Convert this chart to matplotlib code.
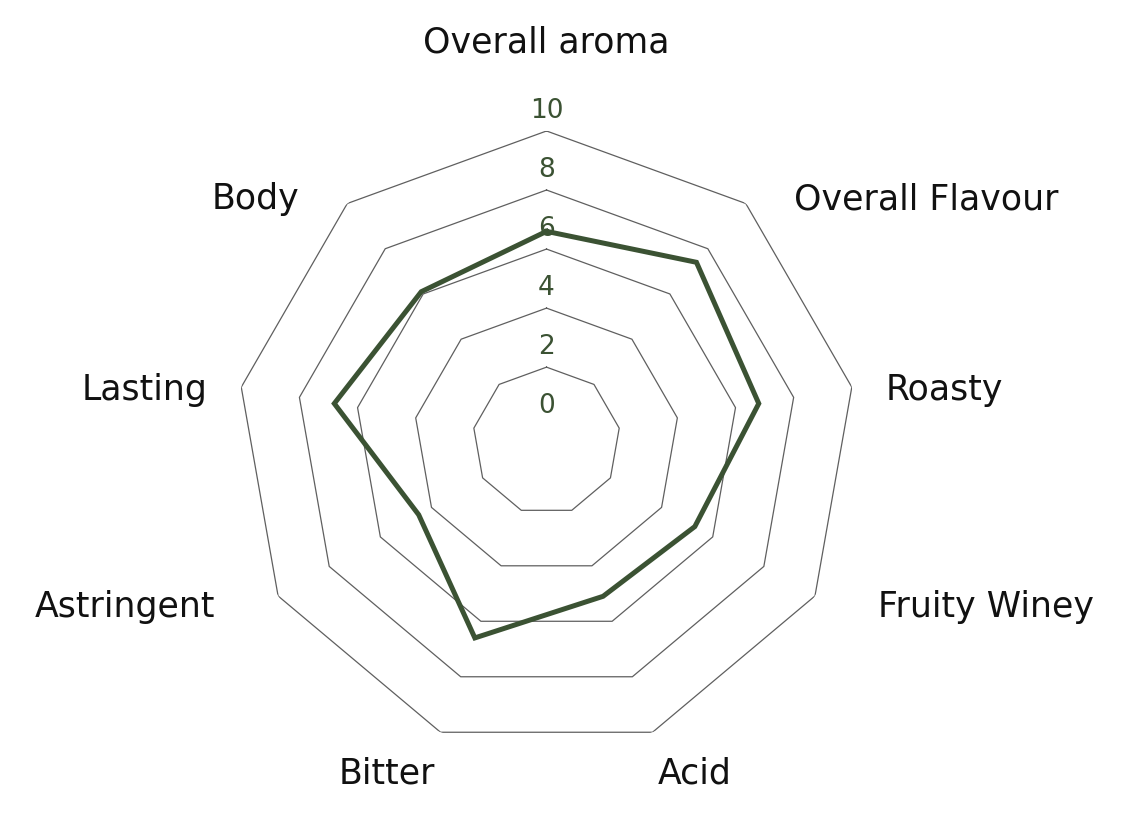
import numpy as np
import matplotlib
matplotlib.use("Agg")
import matplotlib.pyplot as plt

# Sensory profile values
categories = ["Overall aroma", "Overall Flavour", "Roasty", "Fruity Winey", "Acid",
              "Bitter", "Astringent", "Lasting", "Body"]
scores = [6.6, 7.4, 6.8, 5.3, 5.1, 6.6, 4.5, 6.8, 6.1]
grid_levels = [2, 4, 6, 8, 10]
tick_labels = [0, 2, 4, 6, 8, 10]

line_green = "#3b5233"
grid_grey = "#5f5f5f"

n = len(categories)
angles = np.linspace(0, 2 * np.pi, n, endpoint=False)
closed_angles = np.append(angles, angles[0])

fig = plt.figure(figsize=(11.34, 8.32), dpi=100)
ax = fig.add_axes([0.2086, 0.0974, 0.5467, 0.7452], projection="polar")
ax.set_theta_zero_location("N")
ax.set_theta_direction(-1)
ax.set_ylim(-0.5, 10)

# hide default round grid and frame
ax.grid(False)
ax.spines["polar"].set_visible(False)
ax.set_xticks([])
ax.set_yticks([])

# polygon grid
for lvl in grid_levels:
    ax.plot(closed_angles, [lvl] * (n + 1), color=grid_grey, lw=0.9, zorder=1)

# data line
vals = scores + scores[:1]
ax.plot(closed_angles, vals, color=line_green, lw=3.6, zorder=3,
        solid_joinstyle="miter")

# radial value labels along the top axis
for t in tick_labels:
    ax.text(0, t + 0.25, str(t), ha="center", va="bottom", fontsize=19,
            color=line_green, zorder=2)

# category labels, offset in pixels from the outer ring vertex
for ang, name in zip(angles, categories):
    s = np.sin(ang)
    c = np.cos(ang)
    if c > 0.9:
        ha, dx, dy = "center", 0, 88
    elif c < -0.9:
        ha = "left" if s > 0 else "right"
        dx, dy = 5 * np.sign(s), -41
    else:
        ha = "left" if s > 0 else "right"
        if c > 0.5:
            gap = 48
        elif c > 0:
            gap = 34
        else:
            gap = 63
        dx, dy = gap * np.sign(s), -5 + 12 * c
    ax.annotate(name, xy=(ang, 10), xytext=(dx, dy), textcoords="offset pixels",
                ha=ha, va="center", fontsize=25, color="#111111")

fig.savefig("out.png", dpi=100, facecolor="white")
